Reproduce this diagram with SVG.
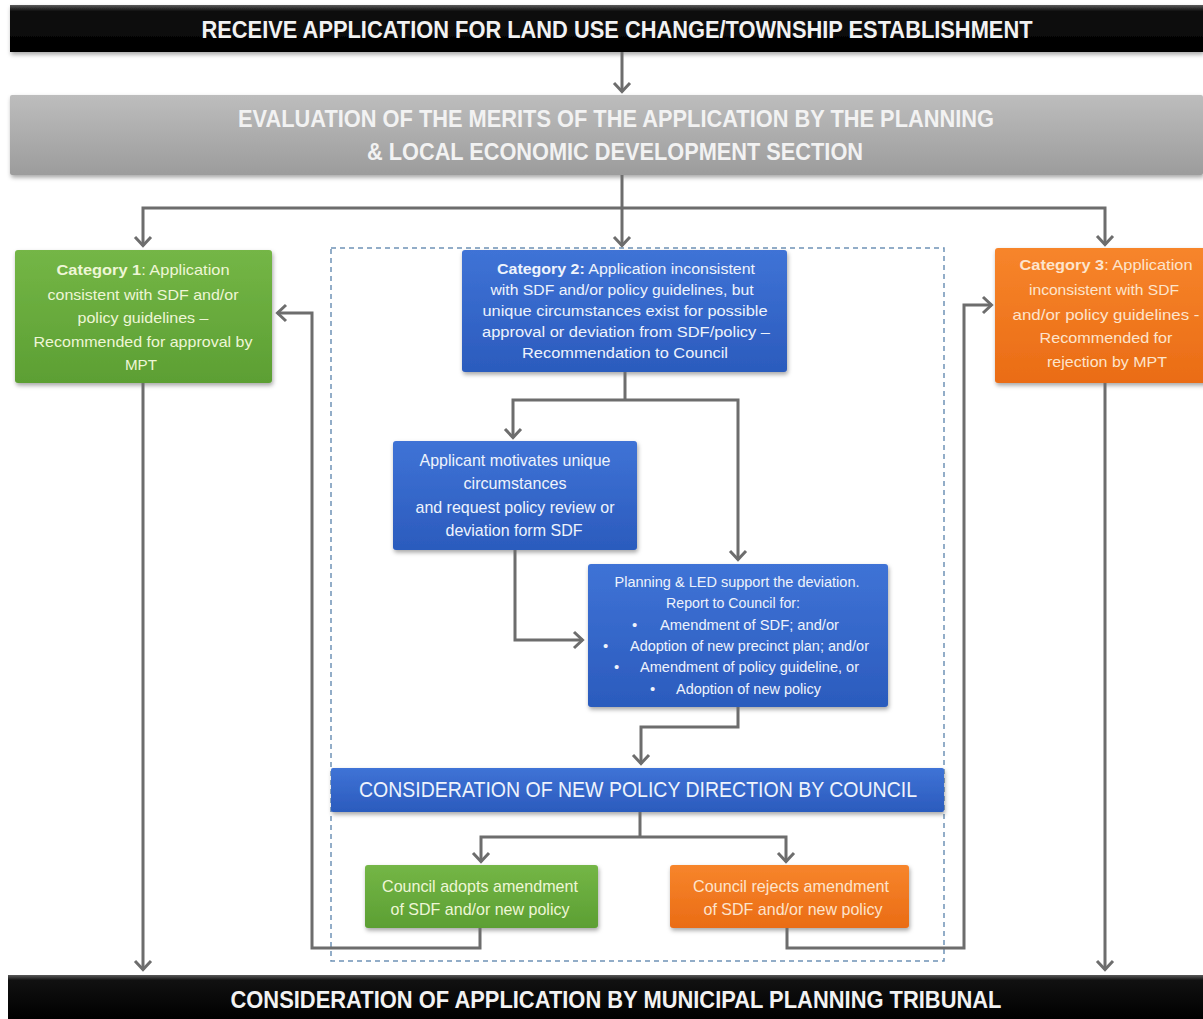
<svg xmlns="http://www.w3.org/2000/svg" width="1203" height="1019" viewBox="0 0 1203 1019">
  <defs>
    <linearGradient id="gBlack" x1="0" y1="0" x2="0" y2="1">
      <stop offset="0" stop-color="#5a5a5a"/>
      <stop offset="0.12" stop-color="#111"/>
      <stop offset="1" stop-color="#000"/>
    </linearGradient>
    <linearGradient id="gGray" x1="0" y1="0" x2="0" y2="1">
      <stop offset="0" stop-color="#bdbdbd"/>
      <stop offset="1" stop-color="#9c9c9c"/>
    </linearGradient>
    <linearGradient id="gGreen" x1="0" y1="0" x2="0" y2="1">
      <stop offset="0" stop-color="#74b646"/>
      <stop offset="1" stop-color="#5c9f33"/>
    </linearGradient>
    <linearGradient id="gBlue" x1="0" y1="0" x2="0" y2="1">
      <stop offset="0" stop-color="#3f73d6"/>
      <stop offset="1" stop-color="#2b5bbd"/>
    </linearGradient>
    <linearGradient id="gOrange" x1="0" y1="0" x2="0" y2="1">
      <stop offset="0" stop-color="#f7852b"/>
      <stop offset="1" stop-color="#ea6c15"/>
    </linearGradient>
    <filter id="shadow" x="-10%" y="-10%" width="120%" height="130%">
      <feDropShadow dx="1" dy="2.5" stdDeviation="2" flood-color="#000" flood-opacity="0.35"/>
    </filter>
    <marker id="arrow" viewBox="-12 -10 14 20" refX="0" refY="0" markerUnits="userSpaceOnUse" markerWidth="14" markerHeight="20" orient="auto-start-reverse">
      <path d="M-9,-8 L-0.5,0 L-9,8" fill="none" stroke="#6d6d6d" stroke-width="3"/>
    </marker>
    <style>
      .bar { font-family: "Liberation Sans", Arial, sans-serif; font-weight: bold; font-size: 23px; fill: #f2f2f2; text-anchor: middle; }
      .bar.tall { font-size: 24px; }
      .lbl { font-family: "Liberation Sans", Arial, sans-serif; font-size: 15px; text-anchor: middle; }
      .lbl.big { font-size: 17px; }
      .lbl.head { font-size: 22px; }
      .lbl2 { font-family: "Liberation Sans", Arial, sans-serif; font-size: 14px; text-anchor: middle; }
      .lbl2.mid { font-size: 15px; }
      .lbl3 { font-family: "Liberation Sans", Arial, sans-serif; font-size: 15px; }
      .g-txt { fill: #eef6d6; }
      .b-txt { fill: #eef3fc; }
      .o-txt { fill: #fde4cc; }
      .hd { font-weight: bold; }
      .conn path { fill: none; stroke: #6d6d6d; stroke-width: 3; }
      .conn .arr { marker-end: url(#arrow); }
      .conn .arr2 { marker-start: url(#arrow); marker-end: url(#arrow); }
    </style>
  </defs>

  <rect width="1203" height="1019" fill="#ffffff"/>

  <!-- dashed frame around the Category 2 process -->
  <rect x="331" y="248" width="613" height="713" fill="none" stroke="#6f93b6" stroke-width="1.5" stroke-dasharray="5,4"/>

  <!-- top and bottom bars -->
  <g id="receive">
    <rect x="10" y="5" width="1193" height="47" fill="url(#gBlack)" filter="url(#shadow)"/>
    <text class="bar" x="617" y="38" textLength="831" lengthAdjust="spacingAndGlyphs">RECEIVE APPLICATION FOR LAND USE CHANGE/TOWNSHIP ESTABLISHMENT</text>
  </g>

  <g id="evaluation">
    <rect x="10" y="95" width="1193" height="80" rx="2" fill="url(#gGray)" filter="url(#shadow)"/>
    <text class="bar tall" x="616" y="127" textLength="756" lengthAdjust="spacingAndGlyphs">EVALUATION OF THE MERITS OF THE APPLICATION BY THE PLANNING</text>
    <text class="bar tall" x="615" y="160" textLength="496" lengthAdjust="spacingAndGlyphs">&amp; LOCAL ECONOMIC DEVELOPMENT SECTION</text>
  </g>

  <g id="tribunal">
    <rect x="8" y="975" width="1195" height="44" fill="url(#gBlack)"/>
    <text class="bar" x="616" y="1008" textLength="771" lengthAdjust="spacingAndGlyphs">CONSIDERATION OF APPLICATION BY MUNICIPAL PLANNING TRIBUNAL</text>
  </g>

  <!-- category 1 -->
  <g id="category1">
    <rect x="15" y="250" width="257" height="133" rx="3" fill="url(#gGreen)" filter="url(#shadow)"/>
    <text class="lbl g-txt" x="143" y="275" textLength="173" lengthAdjust="spacingAndGlyphs"><tspan class="hd">Category 1</tspan>: Application</text>
    <text class="lbl g-txt" x="143" y="300" textLength="191" lengthAdjust="spacingAndGlyphs">consistent with SDF and/or</text>
    <text class="lbl g-txt" x="143" y="323" textLength="131" lengthAdjust="spacingAndGlyphs">policy guidelines –</text>
    <text class="lbl g-txt" x="143" y="347" textLength="219" lengthAdjust="spacingAndGlyphs">Recommended for approval by</text>
    <text class="lbl g-txt" x="141" y="370" textLength="32" lengthAdjust="spacingAndGlyphs">MPT</text>
  </g>

  <!-- category 2 -->
  <g id="category2">
    <rect x="462" y="250" width="325" height="122" rx="3" fill="url(#gBlue)" filter="url(#shadow)"/>
    <text class="lbl2 b-txt" x="626" y="274" textLength="258" lengthAdjust="spacingAndGlyphs"><tspan class="hd">Category 2:</tspan> Application inconsistent</text>
    <text class="lbl2 b-txt" x="622" y="295" textLength="263" lengthAdjust="spacingAndGlyphs">with SDF and/or policy guidelines, but</text>
    <text class="lbl2 b-txt" x="625" y="316" textLength="285" lengthAdjust="spacingAndGlyphs">unique circumstances  exist for possible</text>
    <text class="lbl2 b-txt" x="626" y="337" textLength="288" lengthAdjust="spacingAndGlyphs">approval or deviation from SDF/policy –</text>
    <text class="lbl2 b-txt" x="625" y="358" textLength="206" lengthAdjust="spacingAndGlyphs">Recommendation to Council</text>
  </g>

  <!-- category 3 -->
  <g id="category3">
    <rect x="995" y="248" width="215" height="135" rx="3" fill="url(#gOrange)" filter="url(#shadow)"/>
    <text class="lbl o-txt" x="1106" y="270" textLength="173" lengthAdjust="spacingAndGlyphs"><tspan class="hd">Category 3</tspan>: Application</text>
    <text class="lbl o-txt" x="1104" y="295" textLength="150" lengthAdjust="spacingAndGlyphs">inconsistent with SDF</text>
    <text class="lbl o-txt" x="1106" y="320" textLength="187" lengthAdjust="spacingAndGlyphs">and/or policy guidelines -</text>
    <text class="lbl o-txt" x="1106" y="343" textLength="133" lengthAdjust="spacingAndGlyphs">Recommended for</text>
    <text class="lbl o-txt" x="1107" y="367" textLength="120" lengthAdjust="spacingAndGlyphs">rejection by MPT</text>
  </g>

  <!-- applicant motivation -->
  <g id="applicant">
    <rect x="393" y="441" width="244" height="109" rx="3" fill="url(#gBlue)" filter="url(#shadow)"/>
    <text class="lbl big b-txt" x="515" y="466" textLength="191" lengthAdjust="spacingAndGlyphs">Applicant motivates unique</text>
    <text class="lbl big b-txt" x="515" y="489" textLength="103" lengthAdjust="spacingAndGlyphs">circumstances</text>
    <text class="lbl big b-txt" x="515" y="513" textLength="199" lengthAdjust="spacingAndGlyphs">and request policy review or</text>
    <text class="lbl big b-txt" x="514" y="536" textLength="137" lengthAdjust="spacingAndGlyphs">deviation form SDF</text>
  </g>

  <!-- planning & LED support -->
  <g id="planning">
    <rect x="588" y="564" width="300" height="143" rx="3" fill="url(#gBlue)" filter="url(#shadow)"/>
    <text class="lbl2 mid b-txt" x="737" y="587" textLength="245" lengthAdjust="spacingAndGlyphs">Planning &amp; LED support the deviation.</text>
    <text class="lbl2 mid b-txt" x="733" y="608" textLength="134" lengthAdjust="spacingAndGlyphs">Report to Council for:</text>
    <text class="lbl3 b-txt" x="632" y="630">•</text>
    <text class="lbl3 b-txt" x="660" y="630" textLength="179" lengthAdjust="spacingAndGlyphs">Amendment of SDF;  and/or</text>
    <text class="lbl3 b-txt" x="603" y="651">•</text>
    <text class="lbl3 b-txt" x="630" y="651" textLength="239" lengthAdjust="spacingAndGlyphs">Adoption of new precinct plan; and/or</text>
    <text class="lbl3 b-txt" x="614" y="672">•</text>
    <text class="lbl3 b-txt" x="640" y="672" textLength="219" lengthAdjust="spacingAndGlyphs">Amendment of policy guideline, or</text>
    <text class="lbl3 b-txt" x="650" y="694">•</text>
    <text class="lbl3 b-txt" x="676" y="694" textLength="145" lengthAdjust="spacingAndGlyphs">Adoption of new policy</text>
  </g>

  <!-- council consideration -->
  <g id="council-consideration">
    <rect x="331" y="768" width="613" height="44" rx="2" fill="url(#gBlue)" filter="url(#shadow)"/>
    <text class="lbl head b-txt" x="638" y="797" textLength="558" lengthAdjust="spacingAndGlyphs">CONSIDERATION OF NEW POLICY DIRECTION BY COUNCIL</text>
  </g>

  <g id="council-adopts">
    <rect x="365" y="865" width="233" height="63" rx="3" fill="url(#gGreen)" filter="url(#shadow)"/>
    <text class="lbl big g-txt" x="480" y="892" textLength="196" lengthAdjust="spacingAndGlyphs">Council adopts amendment</text>
    <text class="lbl big g-txt" x="480" y="915" textLength="179" lengthAdjust="spacingAndGlyphs">of SDF and/or new policy</text>
  </g>

  <g id="council-rejects">
    <rect x="670" y="865" width="239" height="63" rx="3" fill="url(#gOrange)" filter="url(#shadow)"/>
    <text class="lbl big o-txt" x="791" y="892" textLength="196" lengthAdjust="spacingAndGlyphs">Council rejects amendment</text>
    <text class="lbl big o-txt" x="793" y="915" textLength="179" lengthAdjust="spacingAndGlyphs">of SDF and/or new policy</text>
  </g>

  <!-- connectors -->
  <g id="connectors" class="conn">
    <path class="arr" d="M622,52 V92"/>
    <path class="arr" d="M622,175 V246"/>
    <path class="arr2" d="M143,246 V208 H1105 V245"/>
    <path d="M625,372 V400"/>
    <path class="arr2" d="M513,438 V400 H738 V560"/>
    <path class="arr" d="M515,550 V640 H583"/>
    <path class="arr" d="M738,707 V727 H641 V764"/>
    <path d="M640,812 V837"/>
    <path class="arr2" d="M481,862 V837 H786 V862"/>
    <path class="arr" d="M480,928 V948 H312 V313 H277"/>
    <path class="arr" d="M787,928 V948 H964 V305 H992"/>
    <path class="arr" d="M143,383 V970"/>
    <path class="arr" d="M1105,383 V970"/>
  </g>
</svg>
